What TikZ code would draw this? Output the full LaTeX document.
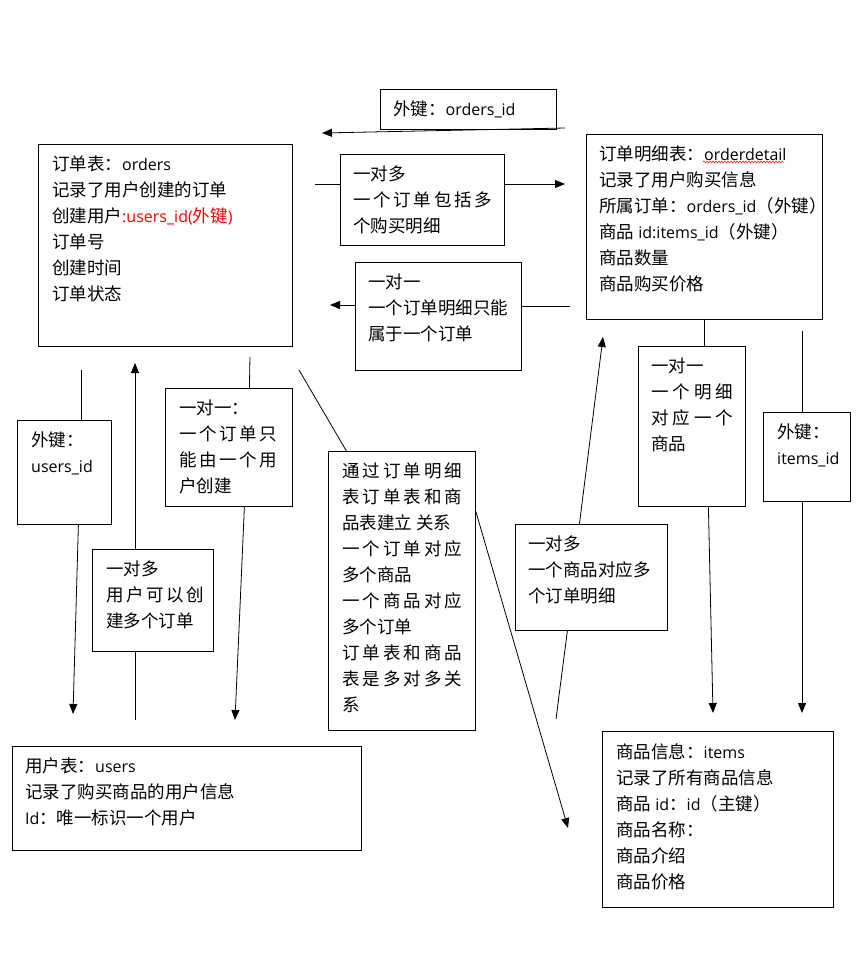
\documentclass[tikz,border=0pt]{standalone}
\usepackage{fontspec}
\setmainfont{Noto Sans CJK SC}
\newfontfamily\latfont{Open Sans}
\usetikzlibrary{arrows.meta,decorations.pathmorphing}
\newcommand\spreadline[2]{\makebox[#1][s]{#2}}
\newcommand\lat[1]{{\fontsize{16}{26}\latfont #1}}

\tikzset{
  tbox/.style={draw, line width=0.8pt, inner sep=0pt, anchor=north west},
  ttext/.style={anchor=north west, inner sep=0pt, align=left, font=\fontsize{17.5}{26}\selectfont},
  link/.style={line width=0.8pt},
  arr/.style={line width=0.8pt, -{Triangle[length=10pt,width=8pt]}},
  spellwave/.style={red, line width=0.5pt, decorate, decoration={snake, amplitude=1pt, segment length=3pt}},
}

\begin{document}
\begin{tikzpicture}[x=1pt,y=1pt,yscale=-1,xscale=1]
\useasboundingbox (0,0) rectangle (863,979);

%Boxes
\node[tbox, minimum width=176, minimum height=40] (fko) at (380,89) {};
\node[tbox, minimum width=254, minimum height=202] (orders) at (38,144) {};
\node[tbox, minimum width=236, minimum height=185] (detail) at (586,134) {};
\node[tbox, minimum width=164, minimum height=91] (om1) at (340,154) {};
\node[tbox, minimum width=166, minimum height=108] (oo1) at (355,262) {};
\node[tbox, minimum width=94, minimum height=104] (fku) at (17,420) {};
\node[tbox, minimum width=127, minimum height=118] (oo2) at (165,388) {};
\node[tbox, minimum width=121, minimum height=102] (om2) at (92,549) {};
\node[tbox, minimum width=147, minimum height=279] (mm) at (328,451) {};
\node[tbox, minimum width=152, minimum height=106] (om3) at (515,524) {};
\node[tbox, minimum width=107, minimum height=160] (oo3) at (638,346) {};
\node[tbox, minimum width=87, minimum height=89] (fki) at (763,412) {};
\node[tbox, minimum width=349, minimum height=104] (users) at (12,746) {};
\node[tbox, minimum width=231, minimum height=176] (items) at (602,731) {};

% Text Nodes
\node[ttext] (fko-t) at ([shift={(13,12)}]fko.north west) {外键：\lat{orders\_id}};
\node[ttext] (orders-t) at ([shift={(14,12)}]orders.north west) {订单表：\lat{orders}\\记录了用户创建的订单\\创建用户\textcolor{red}{\lat{:users\_id(}外键\lat{)}}\\订单号\\创建时间\\订单状态};
\node[ttext] (detail-t) at ([shift={(13,12)}]detail.north west) {订单明细表：\lat{orderdetail}\\记录了用户购买信息\\所属订单：\lat{orders\_id}（外键）\\商品\lat{ id:items\_id}（外键）\\商品数量\\商品购买价格};
\node[ttext] (om1-t) at ([shift={(13,12)}]om1.north west) {一对多\\\spreadline{139pt}{一 个 订 单 包 括 多}\\个购买明细};
\node[ttext] (oo1-t) at ([shift={(13,12)}]oo1.north west) {一对一\\一个订单明细只能\\属于一个订单};
\node[ttext] (fku-t) at ([shift={(14,12)}]fku.north west) {外键：\\\lat{users\_id}};
\node[ttext] (oo2-t) at ([shift={(14,12)}]oo2.north west) {一对一：\\\spreadline{98pt}{一 个 订 单 只}\\\spreadline{98pt}{能 由 一 个 用}\\户创建};
\node[ttext] (om2-t) at ([shift={(14,12)}]om2.north west) {一对多\\\spreadline{94pt}{用 户 可 以 创}\\建多个订单};
\node[ttext] (mm-t) at ([shift={(14,12)}]mm.north west) {\spreadline{120pt}{通 过 订 单 明 细}\\\spreadline{120pt}{表 订 单 表 和 商}\\品表建立 关系\\\spreadline{120pt}{一 个 订 单 对 应}\\多个商品\\\spreadline{120pt}{一 个 商 品 对 应}\\多个订单\\\spreadline{120pt}{订 单 表 和 商 品}\\\spreadline{120pt}{表 是 多 对 多 关}\\系};
\node[ttext] (om3-t) at ([shift={(13,12)}]om3.north west) {一对多\\一个商品对应多\\个订单明细};
\node[ttext] (oo3-t) at ([shift={(13,12)}]oo3.north west) {一对一\\\spreadline{82pt}{一 个 明 细}\\\spreadline{82pt}{对 应 一 个}\\商品};
\node[ttext] (fki-t) at ([shift={(14,12)}]fki.north west) {外键：\\\lat{items\_id}};
\node[ttext] (users-t) at ([shift={(13,12)}]users.north west) {用户表：\lat{users}\\记录了购买商品的用户信息\\\lat{Id}：唯一标识一个用户};
\node[ttext] (items-t) at ([shift={(14,12)}]items.north west) {商品信息：\lat{items}\\记录了所有商品信息\\商品\lat{ id}：\lat{id}（主键）\\商品名称：\\商品介绍\\商品价格};

% spell-check wave under orderdetail
\draw[spellwave] (703,162) -- (784,162);

% Free ends
\coordinate (fko-a) at (565,128);
\coordinate (fko-b) at (322,133);
\coordinate (om1-a) at (315,184);
\coordinate (om1-b) at (565,184);
\coordinate (oo1-a) at (570,306);
\coordinate (oo1-b) at (330,305);
\coordinate (fku-a) at (81,370);
\coordinate (fku-b) at (73,714);
\coordinate (om2-a) at (135,720);
\coordinate (om2-b) at (135,363);
\coordinate (oo2-a) at (250,357);
\coordinate (oo2-b) at (235,720);
\coordinate (mm-a) at (299,370);
\coordinate (mm-b) at (568,828);
\coordinate (om3-a) at (556,719);
\coordinate (om3-b) at (603,337);
\coordinate (oo3-b) at (713,713);
\coordinate (fki-a) at (802,331);
\coordinate (fki-b) at (802,713);

% Connectors
\draw[arr] (fko-a) -- (fko-b);
\draw[link] (om1-a) -- (om1-a -| om1.west);
\draw[arr] (om1-b -| om1.east) -- (om1-b);
\draw[link] (oo1-a) -- (oo1-a -| oo1.east);
\draw[arr] (oo1-b -| oo1.west) -- (oo1-b);
\draw[link] (fku-a) -- (fku-a |- fku.north);
\draw[arr] ([xshift=14pt]fku.south) -- (fku-b);
\draw[link] (om2-a) -- (om2-a |- om2.south);
\draw[arr] (om2-b |- om2.north) -- (om2-b);
\draw[link] (oo2-a) -- ([xshift=20.5pt]oo2.north);
\draw[arr] ([xshift=15.5pt]oo2.south) -- (oo2-b);
\draw[link] (mm-a) -- ([xshift=-55.5pt]mm.north);
\draw[arr] ([yshift=-79.5pt]mm.east) -- (mm-b);
\draw[link] (om3-a) -- ([xshift=-24pt]om3.south);
\draw[arr] ([xshift=-12pt]om3.north) -- (om3-b);
\draw[link] ([xshift=12.5pt]oo3.north |- detail.south) -- ([xshift=12.5pt]oo3.north);
\draw[arr] ([xshift=16.5pt]oo3.south) -- (oo3-b);
\draw[link] (fki-a) -- (fki-a |- fki.north);
\draw[arr] (fki-b |- fki.south) -- (fki-b);

\end{tikzpicture}
\end{document}
